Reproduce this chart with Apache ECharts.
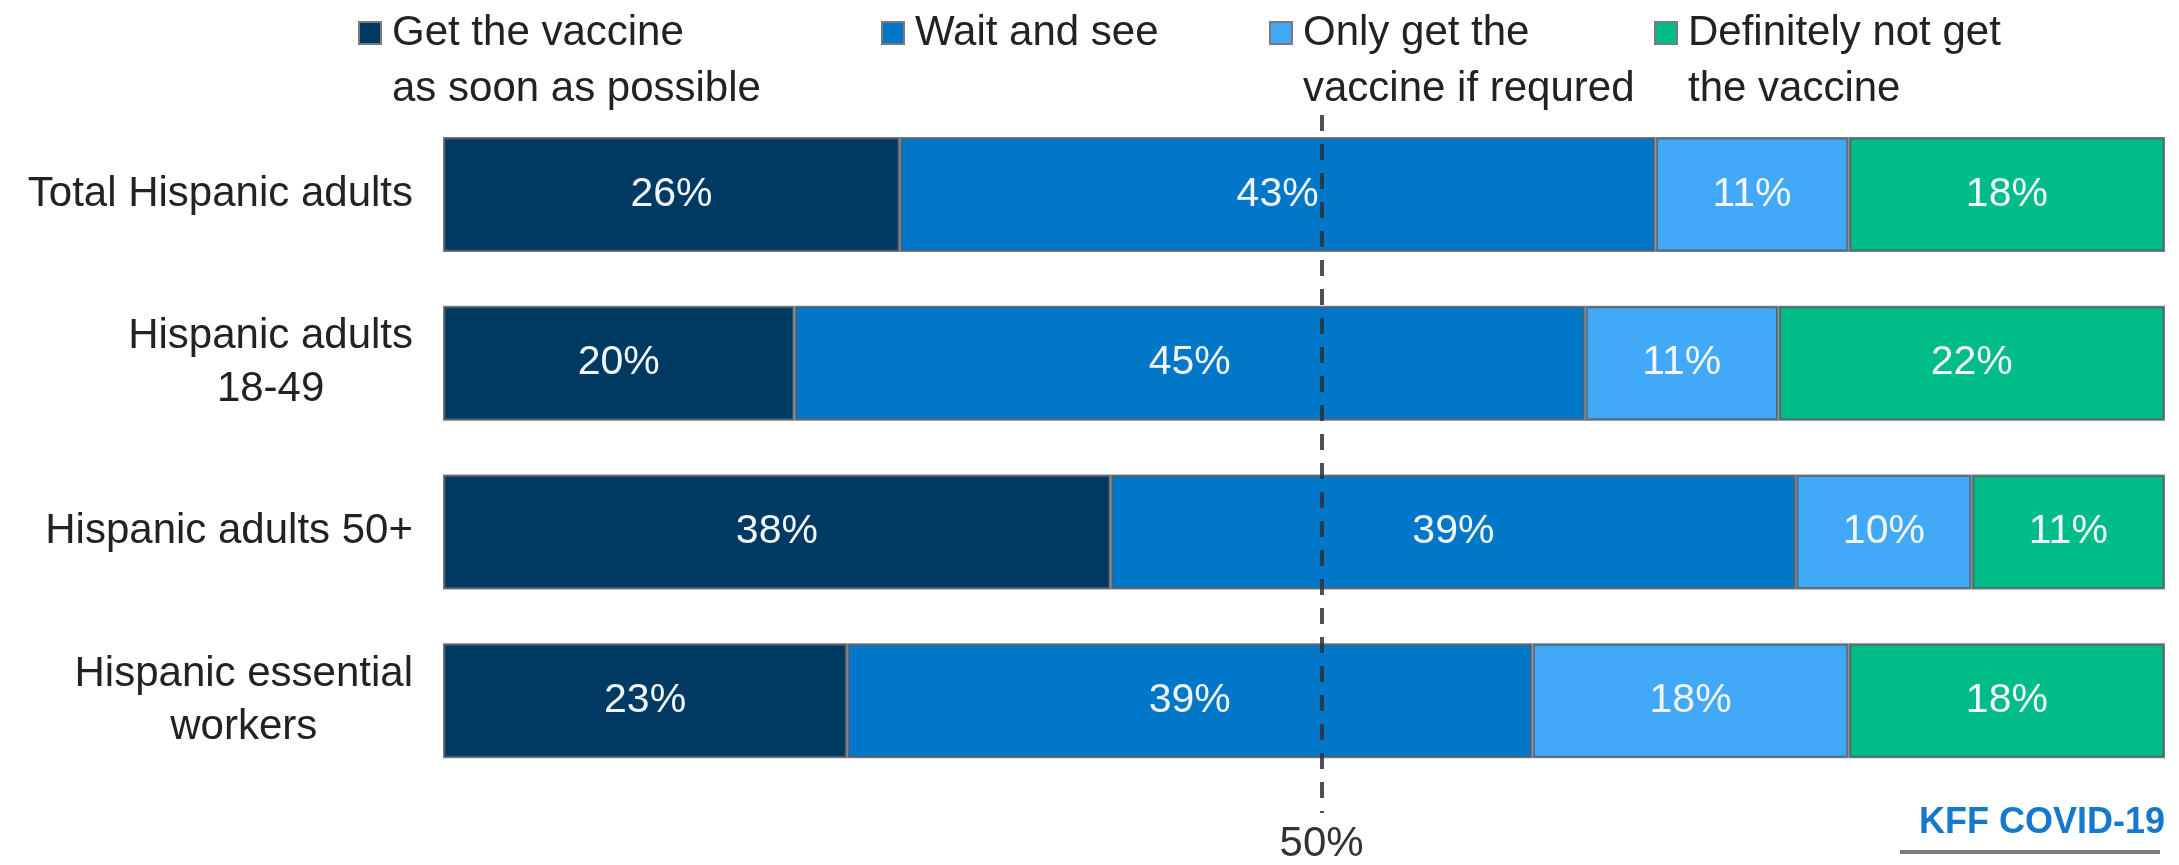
<!DOCTYPE html>
<html>
<head>
<meta charset="utf-8">
<script src="https://cdn.jsdelivr.net/npm/echarts@6/dist/echarts.min.js"></script>
<style>
  html, body { margin: 0; padding: 0; background: #ffffff; }
  #chart { width: 2179px; height: 865px; }
</style>
</head>
<body>
<div id="chart"></div>
<script>
// Survey groups, top to bottom
const categories = [
  'Total Hispanic adults',
  'Hispanic adults\n18-49',
  'Hispanic adults 50+',
  'Hispanic essential\nworkers'
];

// Response shares (%) per group
const asSoonAsPossible = [26, 20, 38, 23];
const waitAndSee       = [43, 45, 39, 39];
const onlyIfRequired   = [11, 11, 10, 18];
const definitelyNot    = [18, 22, 11, 18];

const responseNames = [
  'Get the vaccine\nas soon as possible',
  'Wait and see',
  'Only get the\nvaccine if requred',
  'Definitely not get\nthe vaccine'
];
const responseColors = ['#003A63', '#0077C8', '#42A8F8', '#00BC87'];

const referenceValue = 50;
const referenceLabel = '50%';
const sourceNote = 'KFF COVID-19';

const FONT = '"Liberation Sans", Arial, sans-serif';

// Bars span the full row total, so the axis ends at the largest row sum
const rows = [asSoonAsPossible, waitAndSee, onlyIfRequired, definitelyNot];
const rowTotals = categories.map((_, i) => rows.reduce((s, r) => s + r[i], 0));
const axisMax = Math.max(...rowTotals);

const chart = echarts.init(document.getElementById('chart'), null, { renderer: 'canvas' });

// Legend entries sit in fixed columns; the icon lines up with the first text line
const legendLefts = [358, 881, 1269, 1654];
const legendLineHeight = 56;
const legendIconCenter = 30;

const series = rows.map((values, k) => ({
  name: responseNames[k],
  type: 'bar',
  stack: 'total',
  xAxisIndex: 0,
  yAxisIndex: 0,
  barWidth: 115,
  data: values,
  itemStyle: {
    color: responseColors[k],
    borderColor: 'rgba(80, 90, 100, 0.8)',
    borderWidth: 2.5
  },
  label: {
    show: true,
    position: 'inside',
    formatter: '{c}%',
    color: '#f2f6fa',
    fontSize: 41,
    fontFamily: FONT
  },
  emphasis: { disabled: true }
}));

const option = {
  animation: false,
  backgroundColor: '#ffffff',
  textStyle: { fontFamily: FONT },
  legend: responseNames.map((name, k) => {
    const lines = name.split('\n').length;
    // an empty leading line keeps the first text line centred on the icon
    const shown = lines > 1 ? '\n' + name : name;
    const halfBlock = (lines > 1 ? 3 : 1) * legendLineHeight / 2;
    return {
      data: [name],
      formatter: () => shown,
      left: legendLefts[k],
      top: legendIconCenter - halfBlock,
      padding: 0,
      orient: 'horizontal',
      icon: 'rect',
      itemWidth: 22,
      itemHeight: 22,
      selectedMode: false,
      itemStyle: { borderColor: '#7a7a7a', borderWidth: 2 },
      textStyle: {
        fontSize: 42,
        fontFamily: FONT,
        color: '#222222',
        lineHeight: legendLineHeight,
        padding: [6, 0, 0, 6]
      }
    };
  }),
  grid: [
    { left: 443, right: 14, top: 110, height: 675, outerBoundsMode: 'none', containLabel: false },
    { left: 443, right: 14, top: 115, bottom: 52, outerBoundsMode: 'none', containLabel: false }
  ],
  xAxis: [
    {
      type: 'value',
      gridIndex: 0,
      min: 0,
      max: axisMax,
      show: false
    },
    {
      // dashed midpoint marker, drawn above the bars
      type: 'value',
      gridIndex: 1,
      min: 0,
      max: axisMax,
      interval: referenceValue,
      z: 10,
      axisLine: { show: false },
      axisTick: { show: false },
      splitLine: {
        show: true,
        lineStyle: {
          color: ['rgba(0,0,0,0)', 'rgba(45, 50, 55, 0.85)', 'rgba(0,0,0,0)'],
          type: [16, 13],
          width: 4
        }
      },
      axisLabel: {
        formatter: v => (v === referenceValue ? referenceLabel : ''),
        fontSize: 42,
        fontFamily: FONT,
        color: '#333333',
        margin: 10
      }
    }
  ],
  yAxis: [
    {
      type: 'category',
      gridIndex: 0,
      inverse: true,
      data: categories,
      axisLine: { show: false },
      axisTick: { show: false },
      splitLine: { show: false },
      axisLabel: {
        margin: 30,
        color: '#222222',
        fontSize: 42,
        fontFamily: FONT,
        lineHeight: 53,
        formatter: v => v.split('\n').map(l => '{c|' + l + '}').join('\n'),
        rich: {
          c: { align: 'center', fontSize: 42, fontFamily: FONT, color: '#222222', lineHeight: 53 }
        }
      }
    },
    {
      type: 'value',
      gridIndex: 1,
      show: false
    }
  ],
  graphic: [
    {
      type: 'text',
      right: 14,
      top: 805,
      style: {
        text: sourceNote,
        fontSize: 36,
        fontWeight: 'bold',
        fontFamily: FONT,
        fill: '#1479CC'
      }
    },
    {
      type: 'rect',
      left: 1900,
      top: 850,
      shape: { width: 260, height: 4 },
      style: { fill: '#7a7a7a' }
    }
  ],
  series: series
};

chart.setOption(option);
</script>
</body>
</html>
